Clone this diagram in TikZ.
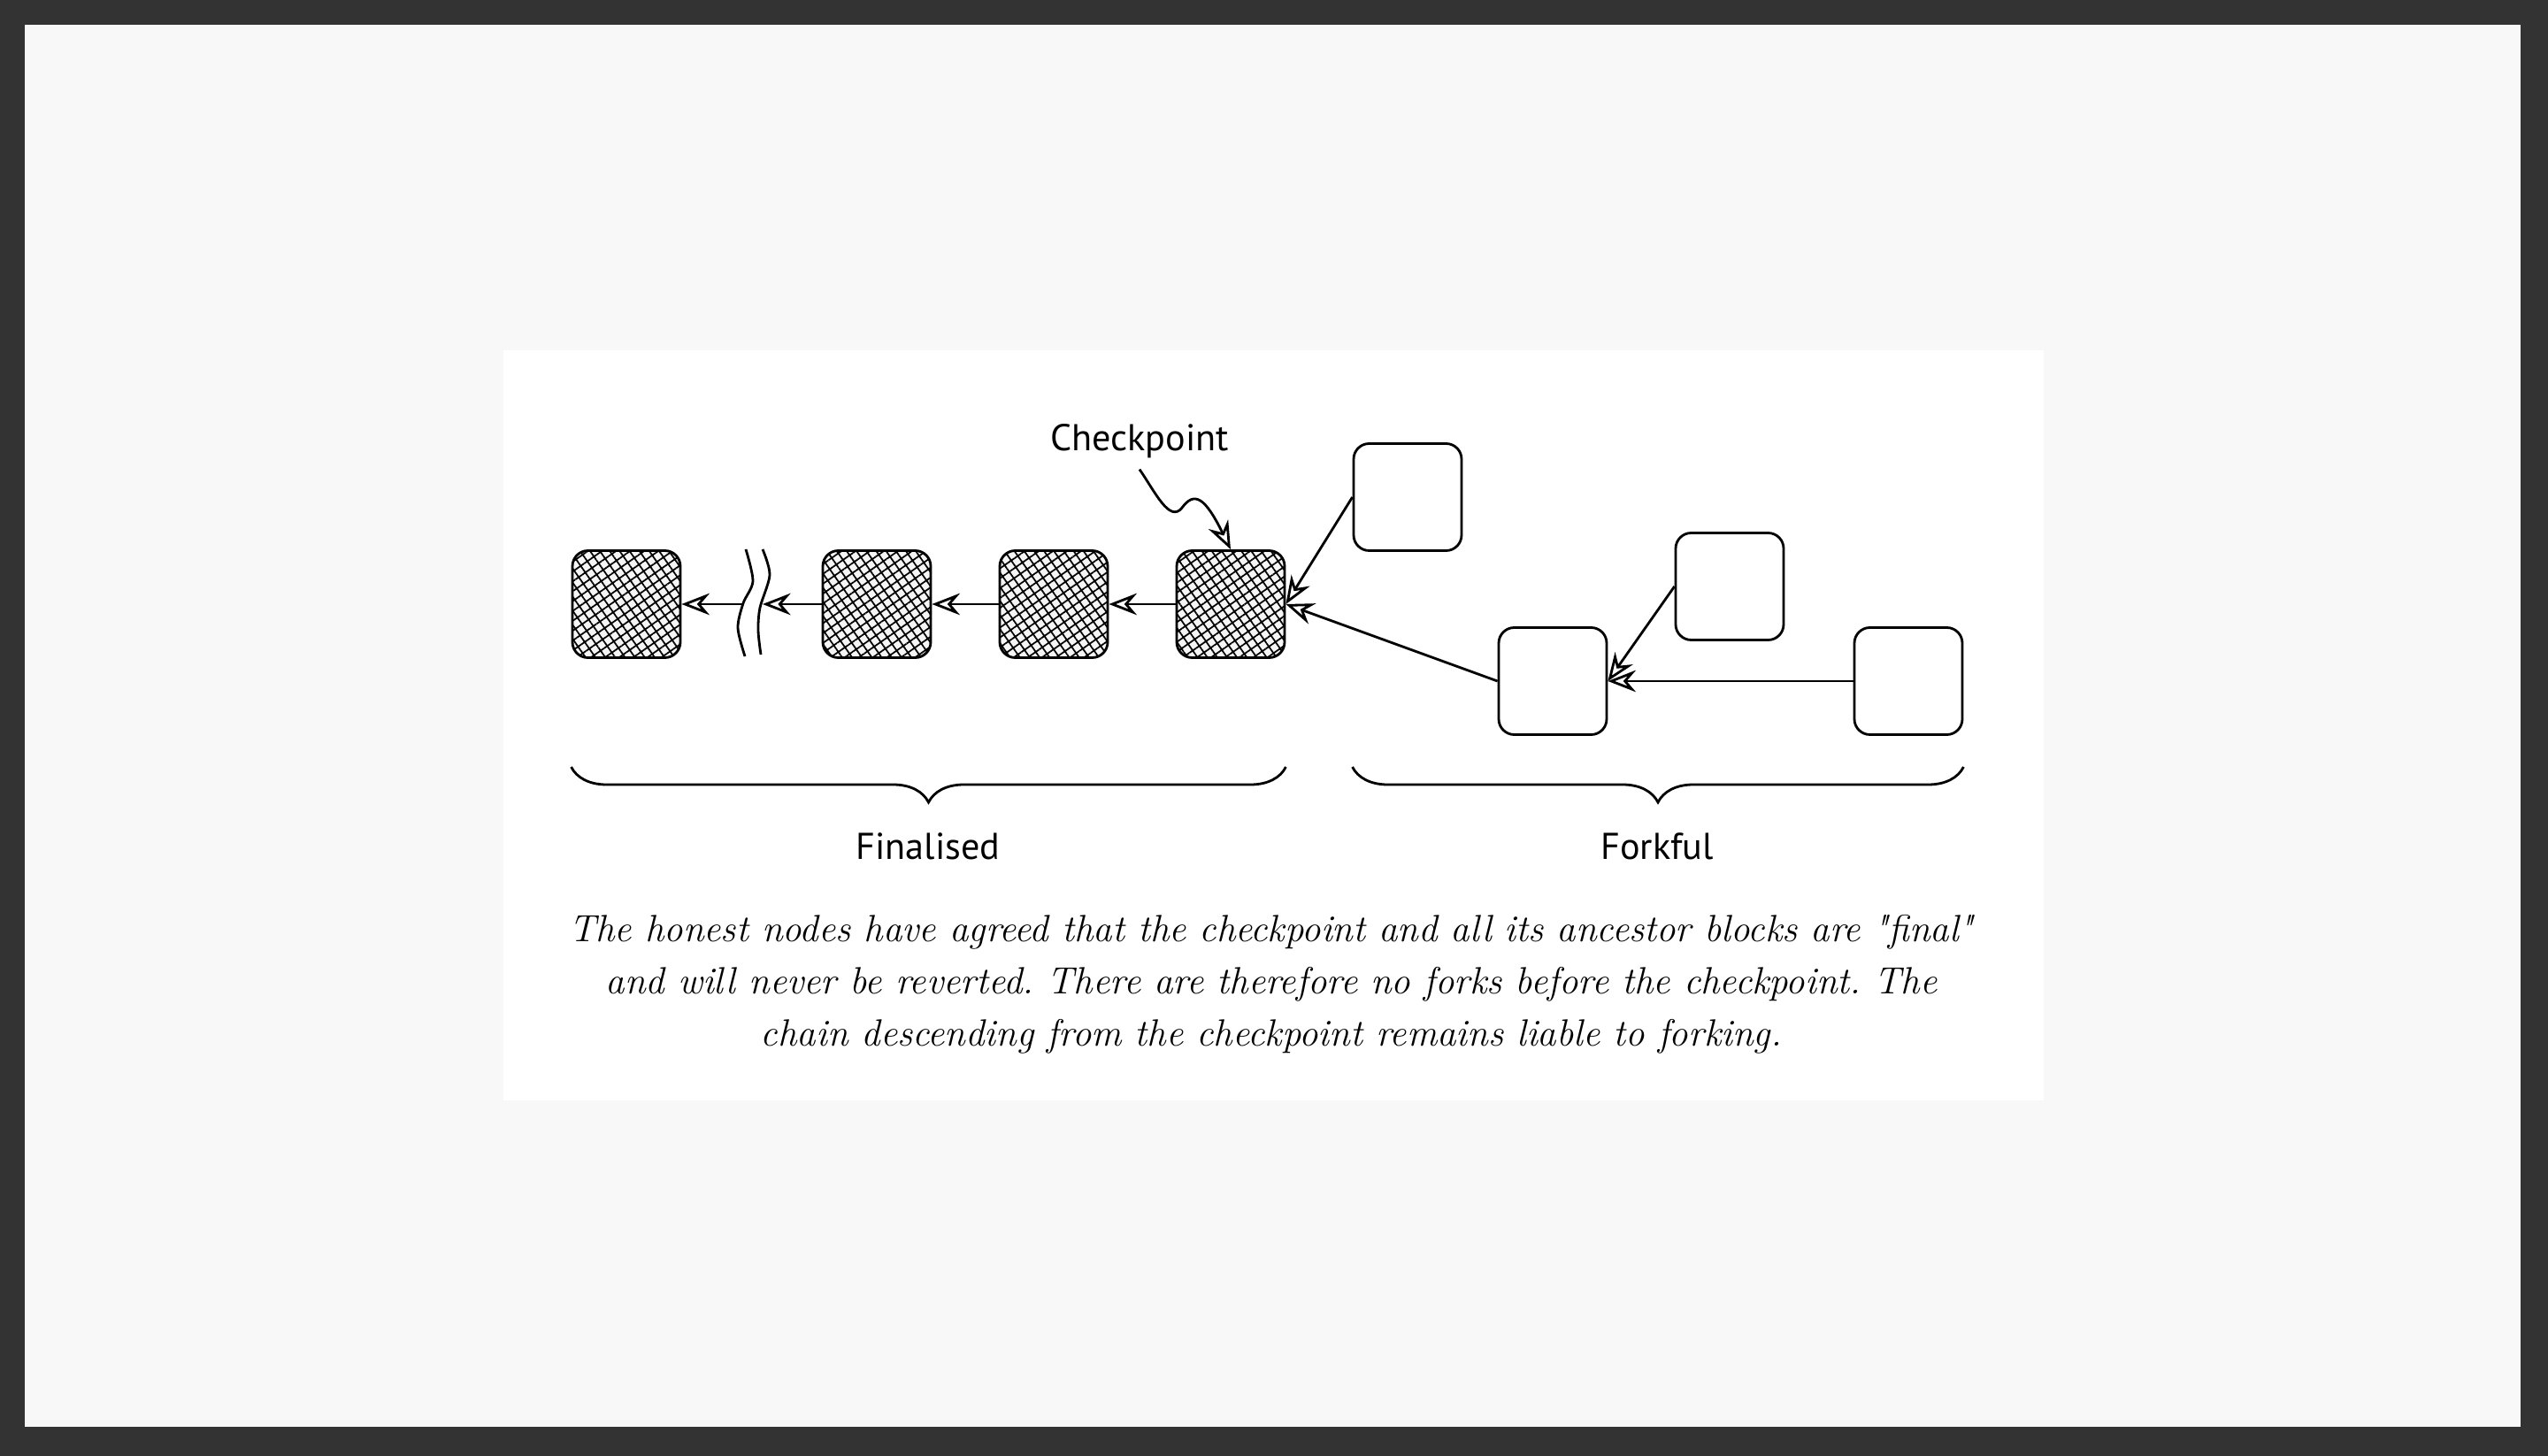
\documentclass[tikz,border=0pt]{standalone}
\usepackage{fontspec}
\usepackage{tikz}
\usetikzlibrary{arrows.meta, patterns.meta, decorations.pathreplacing}
\newfontfamily\sketchfont{PT Sans}
\newfontfamily\captionfont{lmroman12-regular.otf}[ItalicFont=lmroman12-italic.otf]
\definecolor{frameGray}{RGB}{51,51,51}
\definecolor{pageGray}{RGB}{248,248,248}
\tikzstyle{blockNode} = [rectangle, rounded corners=5pt, minimum width=1.22cm, minimum height=1.21cm, draw=black, thick]
\tikzstyle{finalNode} = [blockNode, fill=black!4, postaction={pattern={Hatch[angle=35,distance=2.6pt,line width=0.5pt]}}]
\tikzstyle{sketchLabel} = [font=\sketchfont\fontsize{12}{14}\selectfont]
\tikzstyle{arrow} = [thick,->,>={Stealth[open,length=9pt,width=7pt,inset=3pt]}]
\tikzstyle{braceLine} = [thick, decorate, decoration={brace, mirror, amplitude=0.4cm}]

\begin{document}
\frenchspacing
\begin{tikzpicture}[node distance=2cm]
    % page and panel
    \fill[frameGray] (0,0) rectangle (28.8,-16.46);
    \fill[pageGray] (0.28,-0.28) rectangle (28.49,-16.13);
    \fill[white] (5.69,-3.96) rectangle (23.10,-12.44);
    % Finalised chain
    \node (block1) [finalNode] at (7.08,-6.83) {};
    \node (block2) [finalNode, right of=block1, xshift=0.83cm] {};
    \node (block3) [finalNode, right of=block2] {};
    \node (checkpoint) [finalNode, right of=block3] {};
    % break in the chain
    \coordinate (gapL) at (8.40,-6.83);
    \coordinate (gapR) at (8.62,-6.83);
    \draw [thick] plot [smooth] coordinates {(8.43,-6.21) (8.51,-6.57) (8.40,-6.82) (8.34,-7.10) (8.42,-7.42)};
    \draw [thick] plot [smooth] coordinates {(8.62,-6.21) (8.70,-6.50) (8.59,-6.87) (8.57,-7.13) (8.60,-7.40)};
    % Forks after the checkpoint
    \node (forkA) [blockNode, right of=checkpoint, yshift=1.21cm] {};
    \node (forkB) [blockNode, right of=checkpoint, xshift=1.64cm, yshift=-0.87cm] {};
    \node (forkC) [blockNode, right of=forkB, yshift=1.07cm] {};
    \node (forkD) [blockNode, right of=forkB, xshift=2.02cm] {};
    % Checkpoint label
    \node (cplabel) [sketchLabel, above of=checkpoint, xshift=-1.03cm, yshift=-0.16cm] {Checkpoint};

    \draw [arrow] (block2) -- (gapR);
    \draw [arrow] (gapL) -- (block1);
    \draw [arrow] (block3) -- (block2);
    \draw [arrow] (checkpoint) -- (block3);
    % 
    \draw [arrow] (forkA.west) -- (checkpoint.east);
    \draw [arrow] (forkB.west) -- (checkpoint.east);
    \draw [arrow] (forkC.west) -- (forkB.east);
    \draw [arrow] (forkD) -- (forkB);
    % 
    \draw [arrow] (cplabel.south) .. controls (13.05,-5.55) and (13.22,-5.92) .. (13.36,-5.74) .. controls (13.50,-5.55) and (13.62,-5.62) .. (checkpoint.north);
    % Braces
    \coordinate (braceY) at (0,-8.67);
    \draw [braceLine] (block1.west |- braceY) -- (checkpoint.east |- braceY);
    \draw [braceLine] (forkA.west |- braceY) -- (forkD.east |- braceY);
    \node (finalised) [sketchLabel] at (10.49,-9.57) {Finalised};
    \node (forkful) [sketchLabel] at (18.73,-9.57) {Forkful};
    % Caption
    \node (caption) [font=\captionfont\itshape\fontsize{12.2}{16.8}\selectfont, align=center] at (14.37,-11.13) {The honest nodes have agreed that the checkpoint and all its ancestor blocks are "final"\\and will never be reverted. There are therefore no forks before the checkpoint. The\\chain descending from the checkpoint remains liable to forking.};
\end{tikzpicture}
\end{document}
